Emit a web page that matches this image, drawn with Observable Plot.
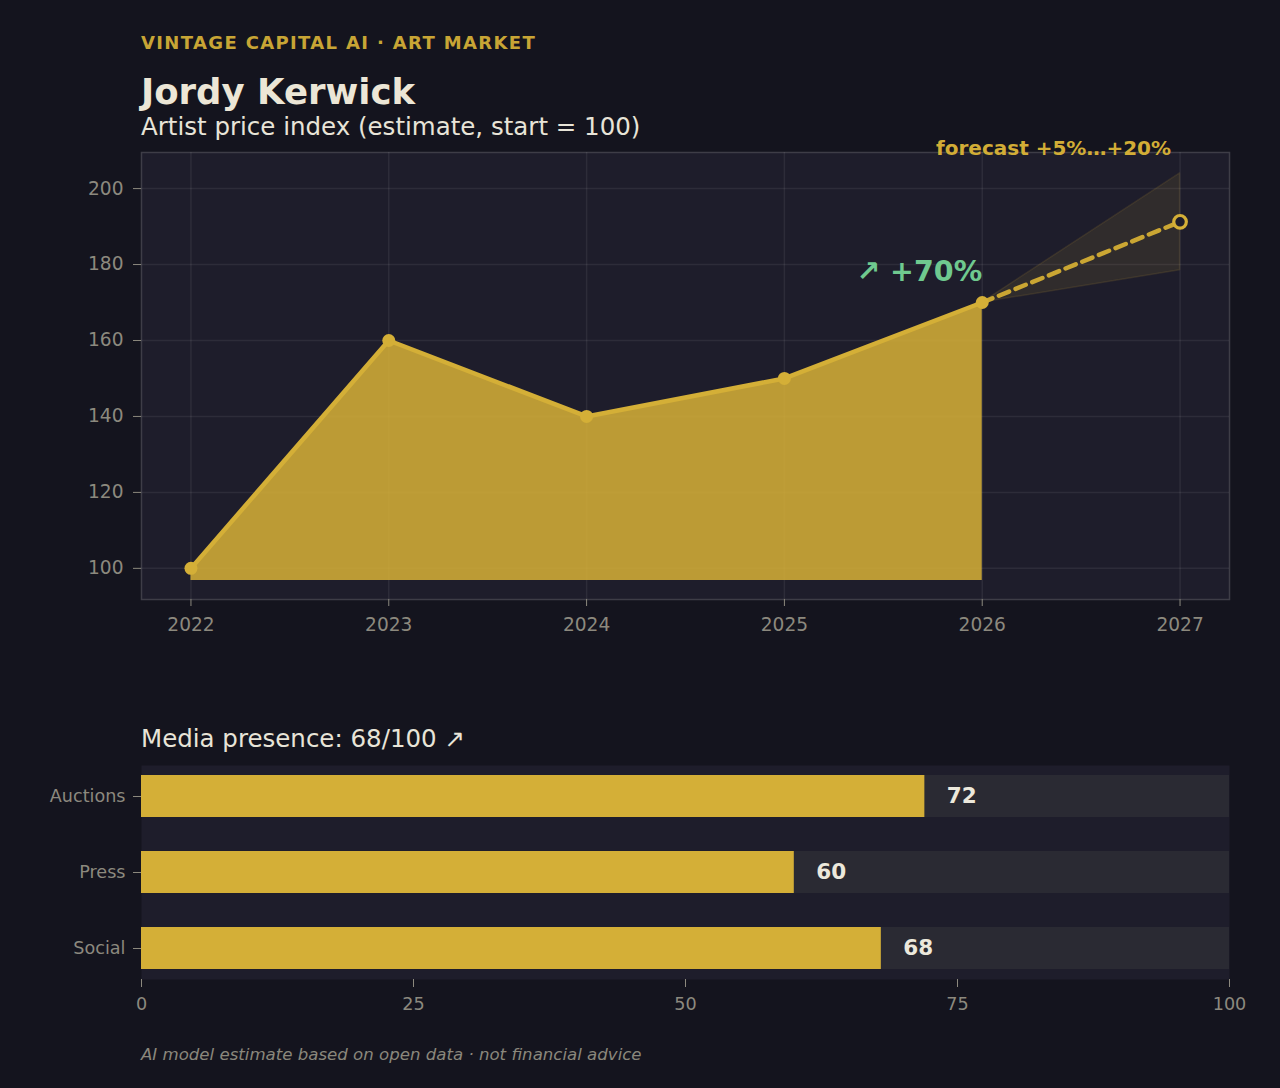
<!DOCTYPE html>
<html>
<head>
<meta charset="utf-8">
<script src="https://cdn.jsdelivr.net/npm/d3@7"></script>
<script src="https://cdn.jsdelivr.net/npm/@observablehq/plot@0.6"></script>
<style>
  html, body { margin: 0; padding: 0; background: #14141e; }
  body { width: 1280px; height: 1088px; position: relative; overflow: hidden; font-family: "DejaVu Sans", sans-serif; }
  .t { position: absolute; left: 141px; white-space: nowrap; line-height: 1; }
  #eyebrow { top: 34px; font-size: 18px; font-weight: bold; color: #c8a535; letter-spacing: 1.35px; }
  #title { top: 74px; font-size: 35.5px; font-weight: bold; color: #ece6d6; }
  #subtitle { top: 115px; font-size: 24.5px; color: #e8e4d8; }
  #media { top: 727px; font-size: 24.5px; color: #e8e4d8; }
  #footer { top: 1047px; font-size: 16.6px; font-style: italic; color: #8a877c; }
  #topchart { position: absolute; left: 0; top: 140px; }
  #bottomchart { position: absolute; left: 0; top: 760px; }
</style>
</head>
<body>
<div class="t" id="eyebrow">VINTAGE CAPITAL AI · ART MARKET</div>
<div class="t" id="title">Jordy Kerwick</div>
<div class="t" id="subtitle">Artist price index (estimate, start = 100)</div>
<div id="topchart"></div>
<div class="t" id="media">Media presence: 68/100 ↗</div>
<div id="bottomchart"></div>
<div class="t" id="footer">AI model estimate based on open data · not financial advice</div>
<script>
// ---- data ----
const years = [2022, 2023, 2024, 2025, 2026];
const priceIndex = [100, 160, 140, 150, 170];
const forecastYears = [2026, 2027];
const forecastLow = [170, 178.5];
const forecastMid = [170, 191.25];
const forecastHigh = [170, 204];
const forecastLabel = "forecast +5%…+20%";
const yearTicks = [2022, 2023, 2024, 2025, 2026, 2027];
const indexTicks = [100, 120, 140, 160, 180, 200];
const mediaCategories = ["Auctions", "Press", "Social"];
const mediaValues = [72, 60, 68];
const mediaTicks = [0, 25, 50, 75, 100];

// ---- derived tables ----
const hist = years.map((y, i) => ({year: y, value: priceIndex[i]}));
const fc = forecastYears.map((y, i) => ({year: y, lo: forecastLow[i], mid: forecastMid[i], hi: forecastHigh[i]}));
const lastPt = hist[hist.length - 1];
const growth = Math.round((lastPt.value / hist[0].value - 1) * 100);
const fcEnd = fc[fc.length - 1];
const media = mediaCategories.map((c, i) => ({cat: c, value: mediaValues[i]}));

const GOLD = "#d4af37";
const PANEL = "#1e1d2b";
const TICK = "#8c897e";
const AREA_BASE = 96.8;

const priceChart = Plot.plot({
  width: 1280,
  height: 500,
  marginLeft: 141,
  marginRight: 51,
  marginTop: 12,
  marginBottom: 41,
  style: {fontFamily: "DejaVu Sans", background: "transparent", overflow: "visible"},
  x: {domain: [2021.75, 2027.25]},
  y: {domain: [91.8, 209.5]},
  marks: [
    Plot.frame({fill: PANEL, stroke: "#3e3d47", strokeWidth: 1.5}),
    Plot.gridX(yearTicks, {stroke: "#ffffff", strokeOpacity: 0.07, strokeWidth: 1.5}),
    Plot.gridY(indexTicks, {stroke: "#ffffff", strokeOpacity: 0.07, strokeWidth: 1.5}),
    Plot.areaY(fc, {x: "year", y1: "lo", y2: "hi", fill: GOLD, fillOpacity: 0.1, stroke: GOLD, strokeOpacity: 0.12, strokeWidth: 1.5}),
    Plot.areaY(hist, {x: "year", y1: AREA_BASE, y2: "value", fill: GOLD, fillOpacity: 0.87}),
    Plot.lineY(hist, {x: "year", y: "value", stroke: GOLD, strokeWidth: 4.5}),
    Plot.lineY(fc, {x: "year", y: "mid", stroke: "#caa633", strokeWidth: 4.5, strokeDasharray: "11,7"}),
    Plot.dot(hist, {x: "year", y: "value", r: 6.5, fill: GOLD}),
    Plot.dot([fcEnd], {x: "year", y: "mid", r: 6.3, fill: PANEL, stroke: GOLD, strokeWidth: 3.2}),
    Plot.text([lastPt], {x: "year", y: "value", text: () => `↗ +${growth}%`, textAnchor: "end", dy: -31, fontSize: 28.5, fontWeight: "bold", fill: "#6fc98f"}),
    Plot.text([fcEnd], {x: "year", y: "hi", text: () => forecastLabel, textAnchor: "end", dx: -9, dy: -25, fontSize: 20, fontWeight: "bold", fill: "#d2ad36"}),
    Plot.axisX({ticks: yearTicks, tickFormat: d => String(d), tickSize: 7, tickPadding: 11, fontSize: 18.6, stroke: TICK, fill: TICK, label: null}),
    Plot.axisY({ticks: indexTicks, tickSize: 8, tickPadding: 10, fontSize: 18.6, stroke: TICK, fill: TICK, label: null})
  ]
});
document.getElementById("topchart").appendChild(priceChart);

const mediaChart = Plot.plot({
  width: 1280,
  height: 259,
  marginLeft: 141,
  marginRight: 51,
  marginTop: 5,
  marginBottom: 40,
  style: {fontFamily: "DejaVu Sans", background: "transparent", overflow: "visible"},
  x: {domain: [0, 100]},
  y: {domain: mediaCategories, paddingInner: 0.45, paddingOuter: 0.12},
  marks: [
    Plot.frame({fill: PANEL, stroke: null}),
    Plot.barX(media, {y: "cat", x1: 0, x2: 100, fill: "#2a2a33"}),
    Plot.barX(media, {y: "cat", x: "value", fill: GOLD}),
    Plot.text(media, {y: "cat", x: "value", text: d => String(d.value), textAnchor: "start", dx: 22, fontSize: 21.5, fontWeight: "bold", fill: "#ece8dc"}),
    Plot.axisX({ticks: mediaTicks, tickSize: 8, tickPadding: 10, fontSize: 17.6, stroke: TICK, fill: TICK, label: null}),
    Plot.axisY({tickSize: 8, tickPadding: 8, fontSize: 17.6, stroke: TICK, fill: TICK, label: null})
  ]
});
document.getElementById("bottomchart").appendChild(mediaChart);
</script>
</body>
</html>
